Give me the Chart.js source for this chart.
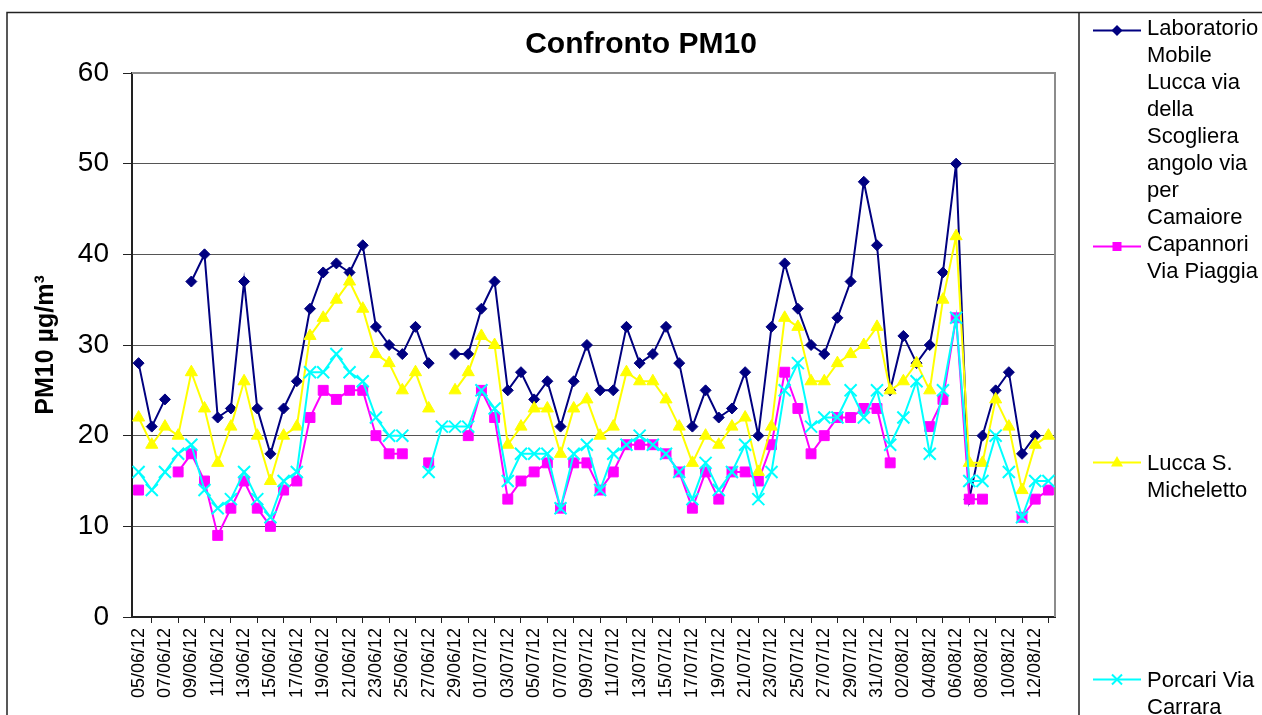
<!DOCTYPE html>
<html>
<head>
<meta charset="utf-8">
<script src="https://cdn.jsdelivr.net/npm/chart.js@4/dist/chart.umd.min.js"></script>
<style>
  html, body { margin: 0; padding: 0; background: #fff; }
  #wrap { position: relative; width: 1262px; height: 715px; overflow: hidden; }
  #c { position: absolute; left: 0; top: 0; }
  .leg { position: absolute; left: 1147px; font-family: "Liberation Sans", Arial, sans-serif; font-size: 22px; line-height: 27px; color: #000; white-space: nowrap; }
  .sym { position: absolute; left: 1093px; width: 48px; height: 27px; }
</style>
</head>
<body>
<div id="wrap">
  <canvas id="c" width="1262" height="715"></canvas>
</div>
<script>
const categories = [
  '05/06/12','06/06/12','07/06/12','08/06/12','09/06/12','10/06/12','11/06/12','12/06/12','13/06/12','14/06/12',
  '15/06/12','16/06/12','17/06/12','18/06/12','19/06/12','20/06/12','21/06/12','22/06/12','23/06/12','24/06/12',
  '25/06/12','26/06/12','27/06/12','28/06/12','29/06/12','30/06/12',
  '01/07/12','02/07/12','03/07/12','04/07/12','05/07/12','06/07/12','07/07/12','08/07/12','09/07/12','10/07/12',
  '11/07/12','12/07/12','13/07/12','14/07/12','15/07/12','16/07/12','17/07/12','18/07/12','19/07/12','20/07/12',
  '21/07/12','22/07/12','23/07/12','24/07/12','25/07/12','26/07/12','27/07/12','28/07/12','29/07/12','30/07/12','31/07/12',
  '01/08/12','02/08/12','03/08/12','04/08/12','05/08/12','06/08/12','07/08/12','08/08/12','09/08/12','10/08/12',
  '11/08/12','12/08/12','13/08/12'
];

const seriesNames = [
  'Laboratorio Mobile Lucca via della Scogliera angolo via per Camaiore',
  'Capannori Via Piaggia',
  'Lucca S. Micheletto',
  'Porcari Via Carrara'
];

const laboratorioMobile = [
  28,21,24,null,37,40,22,23,37,23,
  18,23,26,34,38,39,38,41,32,30,
  29,32,28,null,29,29,
  34,37,25,27,24,26,21,26,30,25,
  25,32,28,29,32,28,21,25,22,23,
  27,20,32,39,34,30,29,33,37,48,41,
  25,31,28,30,38,50,13,20,25,27,
  18,20,null
];

const capannori = [
  14,null,null,16,18,15,9,12,15,12,
  10,14,15,22,25,24,25,25,20,18,
  18,null,17,null,null,20,
  25,22,13,15,16,17,12,17,17,14,
  16,19,19,19,18,16,12,16,13,16,
  16,15,19,27,23,18,20,22,22,23,23,
  17,null,null,21,24,33,13,13,null,null,
  11,13,14
];

const luccaMicheletto = [
  22,19,21,20,27,23,17,21,26,20,
  15,20,21,31,33,35,37,34,29,28,
  25,27,23,null,25,27,
  31,30,19,21,23,23,18,23,24,20,
  21,27,26,26,24,21,17,20,19,21,
  22,16,21,33,32,26,26,28,29,30,32,
  25,26,28,25,35,42,17,17,24,21,
  14,19,20
];

const porcari = [
  16,14,16,18,19,14,12,13,16,13,
  11,15,16,27,27,29,27,26,22,20,
  20,null,16,21,21,21,
  25,23,15,18,18,18,12,18,19,14,
  18,19,20,19,18,16,13,17,14,16,
  19,13,16,25,28,21,22,22,25,22,25,
  19,22,26,18,25,33,15,15,20,16,
  11,15,15
];

const yTicks = [0, 10, 20, 30, 40, 50, 60];
const chartTitle = 'Confronto PM10';
const yTitle = 'PM10 µg/m³';

const FONT = '"Liberation Sans", Arial, sans-serif';

const frame = {
  id: 'frame',
  beforeDraw(chart) {
    const ctx = chart.ctx;
    ctx.save();
    ctx.strokeStyle = '#222';
    ctx.lineWidth = 1.5;
    ctx.beginPath();
    ctx.moveTo(7, 715); ctx.lineTo(7, 12.5); ctx.lineTo(1262, 12.5);
    ctx.moveTo(1079, 12.5); ctx.lineTo(1079, 715);
    ctx.stroke();
    ctx.restore();
  },
  beforeDatasetsDraw(chart) {
    const a = chart.chartArea, ctx = chart.ctx;
    ctx.save();
    ctx.strokeStyle = '#8c8c8c';
    ctx.lineWidth = 2;
    ctx.beginPath();
    ctx.moveTo(a.left, a.top); ctx.lineTo(a.right, a.top); ctx.lineTo(a.right, a.bottom);
    ctx.stroke();
    ctx.restore();
  }
};

function mk(label, data, color, style, radius, order) {
  return {
    label, data,
    borderColor: color, backgroundColor: color,
    pointBackgroundColor: color, pointBorderColor: color,
    pointStyle: style, pointRadius: radius, pointHoverRadius: radius,
    pointBorderWidth: style === 'crossRot' ? 2 : 1,
    borderWidth: 2, tension: 0, spanGaps: false, order, yAxisID: 'y'
  };
}

new Chart(document.getElementById('c'), {
  type: 'line',
  data: {
    labels: categories,
    datasets: [
      mk(seriesNames[0], laboratorioMobile, '#000080', 'rectRot', 5.5, 4),
      mk(seriesNames[1], capannori, '#FF00FF', 'rect', 7, 3),
      mk(seriesNames[2], luccaMicheletto, '#FFFF00', 'triangle', 7, 2),
      mk(seriesNames[3], porcari, '#00FFFF', 'crossRot', 8.5, 1)
    ]
  },
  options: {
    responsive: false,
    animation: false,
    events: [],
    layout: { padding: { left: 20, right: 0, top: 0, bottom: 0 } },
    plugins: {
      legend: { display: false },
      tooltip: { enabled: false },
      title: {
        display: true, text: chartTitle, color: '#000',
        font: { family: FONT, size: 30, weight: 'bold', lineHeight: 1.2 },
        padding: { top: 27, bottom: 10 }
      }
    },
    scales: {
      x: {
        type: 'category',
        offset: true,
        border: { display: true, color: '#222', width: 2 },
        grid: { drawOnChartArea: false, drawTicks: true, tickLength: 6, offset: true, color: '#222', tickColor: '#222' },
        ticks: {
          autoSkip: false, maxRotation: 90, minRotation: 90, padding: 5, color: '#000',
          font: { family: FONT, size: 18 },
          callback: function(v, i) { return i % 2 === 0 ? categories[i] : null; }
        },
        afterFit(s) { s.height = 98; s.paddingLeft = 0; s.paddingRight = 0; }
      },
      y: {
        type: 'linear', position: 'left', min: 0, max: 60,
        afterBuildTicks(s) { s.ticks = yTicks.map(v => ({ value: v })); },
        border: { display: true, color: '#222', width: 2 },
        grid: {
          color: (c) => (c.tick && c.tick.value === 60) ? 'rgba(0,0,0,0)' : '#555',
          tickColor: '#222', lineWidth: 1, drawTicks: true, tickLength: 9
        },
        ticks: { padding: 14, color: '#000', font: { family: FONT, size: 28 } },
        title: {
          display: true, text: yTitle, color: '#000',
          font: { family: FONT, size: 25, weight: 'bold', lineHeight: 1.2 },
          padding: { top: 11, bottom: 0 }
        },
        afterFit(s) { s.width = 112; s.paddingTop = 0; s.paddingBottom = 0; }
      },
      yR: {
        type: 'linear', position: 'right', min: 0, max: 60,
        ticks: { display: false }, grid: { display: false }, border: { display: false },
        afterFit(s) { s.width = 207; }
      }
    }
  },
  plugins: [frame]
});

// Legend (HTML text)
const legendTops = [14, 230, 449, 666];
const legendLines = [
  ['Laboratorio', 'Mobile', 'Lucca via', 'della', 'Scogliera', 'angolo via', 'per', 'Camaiore'],
  ['Capannori', 'Via Piaggia'],
  ['Lucca S.', 'Micheletto'],
  ['Porcari Via', 'Carrara']
];
const legendColors = ['#000080', '#FF00FF', '#FFFF00', '#00FFFF'];
const legendMarkers = [
  '<polygon points="24,8 29.5,13.5 24,19 18.5,13.5" fill="#000080"/>',
  '<rect x="19.5" y="9" width="9" height="9" fill="#FF00FF"/>',
  '<polygon points="24,7 30,17.5 18,17.5" fill="#FFFF00"/>',
  '<path d="M19,8.5 L29,18.5 M29,8.5 L19,18.5" stroke="#00FFFF" stroke-width="2"/>'
];
const wrap = document.getElementById('wrap');
const symOffsets = [3, 3, 0, 0];
legendLines.forEach((lines, k) => {
  const d = document.createElement('div');
  d.className = 'leg';
  d.style.top = legendTops[k] + 'px';
  d.innerHTML = lines.join('<br>');
  wrap.appendChild(d);
  const s = document.createElementNS('http://www.w3.org/2000/svg', 'svg');
  s.setAttribute('class', 'sym');
  s.setAttribute('width', '48'); s.setAttribute('height', '27');
  s.style.top = (legendTops[k] + symOffsets[k]) + 'px';
  s.innerHTML = '<line x1="0" y1="13.5" x2="48" y2="13.5" stroke="' + legendColors[k] + '" stroke-width="2"/>' + legendMarkers[k];
  wrap.appendChild(s);
});
</script>
</body>
</html>
